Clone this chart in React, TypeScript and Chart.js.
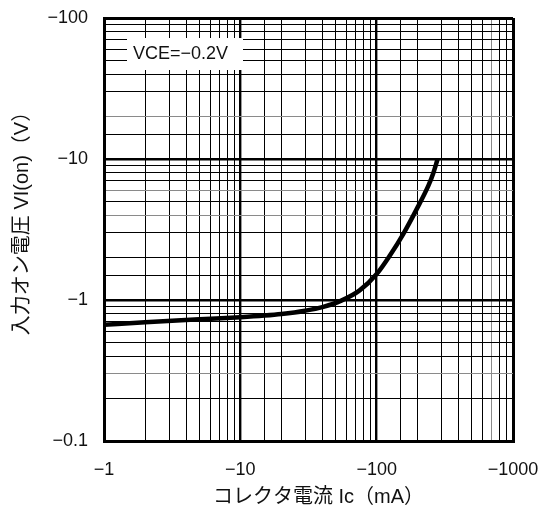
import React, { useEffect, useRef } from "react";
import { Chart, registerables } from "chart.js";

Chart.register(...registerables);

// Collector current Ic (mA) and input on-voltage VI(on) (V) (negative polarity)
const collectorCurrent_mA = [-1, -2, -5, -10, -15, -20, -30, -40, -55, -75, -100, -125, -157, -197, -240, -262, -280];
const inputOnVoltage_V = [-0.668, -0.695, -0.73, -0.755, -0.775, -0.795, -0.84, -0.89, -0.99, -1.17, -1.53, -2.07, -2.95, -4.43, -6.5, -8.1, -10.0];

// Axis ranges (magnitudes) and labelled decades
const xDecades = [1, 10, 100, 1000];
const xTickLabels = ["−1", "−10", "−100", "−1000"];
const yDecades = [0.1, 1, 10, 100];
const yTickLabels = ["−0.1", "−1", "−10", "−100"];
// minor grid lines that appear lighter in the scanned reference
const xLightLines = [700];
const yLightLines = [0.3, 4, 6, 20];

const xTitle = "コレクタ電流 Ic（mA）";
const yTitle = "入力オン電圧 VI(on)（V）";
const annotationText = "VCE=−0.2V";

const FONT = "'Liberation Sans', Arial, 'Noto Sans CJK JP', sans-serif";

const near = (a: number, b: number) => Math.abs(Math.log10(a) - Math.log10(b)) < 1e-6;
const isIn = (v: number, arr: number[]) => arr.some((d) => near(v, d));

const labelFor = (v: number, decades: number[], labels: string[]) => {
  const i = decades.findIndex((d) => near(v, d));
  return i >= 0 ? labels[i] : "";
};

const gridColor = (light: number[]) => (ctx: any) => {
  const v = ctx.tick && ctx.tick.value;
  if (v == null) return "#000";
  return isIn(v, light) ? "#8a8a8a" : "#000";
};
const gridWidth = (decades: number[], edges: number[]) => (ctx: any) => {
  const v = ctx.tick && ctx.tick.value;
  if (v == null) return 1;
  if (isIn(v, edges)) return 3;
  if (isIn(v, decades)) return 2.4;
  return 1;
};

const textPlugin = {
  id: "textOverlay",
  afterDatasetsDraw(chart: any) {
    const { ctx, chartArea } = chart;
    ctx.save();
    // condition label box
    ctx.fillStyle = "#fff";
    ctx.fillRect(chartArea.left + 23, chartArea.top + 20, 116, 32);
    ctx.fillStyle = "#111";
    ctx.font = `18px ${FONT}`;
    ctx.textBaseline = "middle";
    ctx.textAlign = "left";
    ctx.fillText(annotationText, chartArea.left + 29, chartArea.top + 36.5);
    ctx.restore();
  },
  afterDraw(chart: any) {
    const { ctx, chartArea } = chart;
    ctx.save();
    ctx.fillStyle = "#111";
    ctx.font = `20px ${FONT}`;
    ctx.textAlign = "center";
    ctx.textBaseline = "middle";
    ctx.fillText(xTitle, (chartArea.left + chartArea.right) / 2 + 10, chartArea.bottom + 56);
    ctx.translate(22, (chartArea.top + chartArea.bottom) / 2 - 11);
    ctx.rotate(-Math.PI / 2);
    ctx.fillText(yTitle, 0, 0);
    ctx.restore();
  },
};

export default function App() {
  const canvasRef = useRef<HTMLCanvasElement | null>(null);

  useEffect(() => {
    document.body.style.margin = "0";
    const canvas = canvasRef.current;
    if (!canvas) return;
    const points = collectorCurrent_mA.map((ic, i) => ({ x: -ic, y: -inputOnVoltage_V[i] }));
    const chart = new Chart(canvas, {
      type: "line",
      data: {
        datasets: [
          {
            data: points,
            borderColor: "#000",
            borderWidth: 4.5,
            pointRadius: 0,
            cubicInterpolationMode: "monotone",
            fill: false,
          },
        ],
      },
      options: {
        animation: false,
        responsive: false,
        devicePixelRatio: 1,
        layout: { padding: { top: 18, right: 31, left: 0, bottom: 0 } },
        plugins: { legend: { display: false }, tooltip: { enabled: false } },
        scales: {
          x: {
            type: "logarithmic",
            min: 1,
            max: 1000,
            afterFit: (s: any) => {
              s.height = 75;
            },
            border: { display: true, color: "#000", width: 3 },
            grid: {
              drawTicks: true,
              tickLength: 17,
              tickColor: "rgba(0,0,0,0)",
              color: gridColor(xLightLines),
              lineWidth: gridWidth(xDecades, [1, 1000]),
            },
            ticks: {
              autoSkip: false,
              maxRotation: 0,
              padding: 1,
              color: "#111",
              font: { family: FONT, size: 18 },
              callback: (v: any) => labelFor(Number(v), xDecades, xTickLabels),
            },
          },
          y: {
            type: "logarithmic",
            min: 0.1,
            max: 100,
            afterFit: (s: any) => {
              s.width = 104;
            },
            border: { display: true, color: "#000", width: 3 },
            grid: {
              drawTicks: true,
              tickLength: 15,
              tickColor: "rgba(0,0,0,0)",
              color: gridColor(yLightLines),
              lineWidth: gridWidth(yDecades, [0.1, 100]),
            },
            ticks: {
              autoSkip: false,
              padding: 1,
              color: "#111",
              font: { family: FONT, size: 18 },
              callback: (v: any) => labelFor(Number(v), yDecades, yTickLabels),
            },
          },
        },
      },
      plugins: [textPlugin],
    });
    return () => chart.destroy();
  }, []);

  return (
    <div style={{ width: 544, height: 516 }}>
      <canvas ref={canvasRef} width={544} height={516} style={{ display: "block" }} />
    </div>
  );
}
